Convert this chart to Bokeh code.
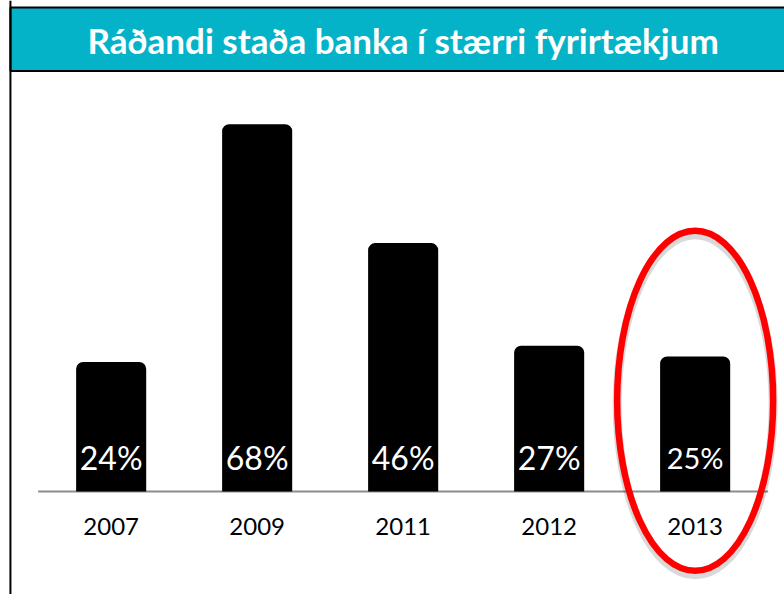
from bokeh.plotting import figure
from bokeh.models import Range1d, Span
from bokeh.core.properties import value
from bokeh.embed import file_html
from bokeh.resources import INLINE

# ---- data ----
categories = ["2007", "2009", "2011", "2012", "2013"]
shares = [0.24, 0.68, 0.46, 0.27, 0.25]
share_labels = ["24%", "68%", "46%", "27%", "25%"]
highlight = "2013"
title_text = "Ráðandi staða banka í stærri fyrirtækjum"

# ---- styles ----
TEAL = "#05B3C9"
FONT = "Lato"
W, H = 784, 594

x_idx = list(range(len(categories)))
hi = categories.index(highlight)

p = figure(width=W, height=H, output_backend="svg", toolbar_location=None,
           x_range=Range1d(-0.758, 4.612), y_range=Range1d(-0.1907, 0.9093),
           x_axis_type=None, y_axis_type=None, min_border=0,
           outline_line_color=None, background_fill_color="white",
           border_fill_color="white")
p.grid.visible = False

# title bar
p.quad(left=[-0.690], right=[4.8], top=[0.8963], bottom=[0.7787],
       fill_color=TEAL, line_color="black", line_width=2)
p.add_layout(Span(location=-0.690, dimension="height", line_color="black", line_width=2))
p.text(x=[sum(x_idx) / len(x_idx)], y=[0.8148], text=[title_text],
       text_align="center", text_baseline="alphabetic", y_offset=-12, text_color="white",
       text_font=value(FONT), text_font_style="bold", text_font_size="35px")

# baseline
p.line(x=[-0.5, len(categories) - 0.5], y=[0, 0], line_color="#8c8c8c", line_width=2)

# bars
p.vbar(x=x_idx, top=shares, bottom=0, width=0.48, fill_color="black",
       line_color=None, border_radius=(7, 7, 0, 0))

# value labels inside bars
sizes = ["29px" if c == highlight else "32px" for c in categories]
p.text(x=x_idx, y=[0] * len(x_idx), text=share_labels, text_align="center",
       text_baseline="alphabetic", y_offset=-34, text_color="white",
       text_font=value(FONT), text_font_size=sizes)

# category labels
p.text(x=x_idx, y=[0] * len(x_idx), text=categories, text_align="center",
       text_baseline="alphabetic", y_offset=35, text_color="black",
       text_font=value(FONT), text_font_size="24px")

# highlight ellipse
p.ellipse(x=[hi], y=[0.168 - 4 / 540], width=156, height=340, width_units="screen",
          height_units="screen", fill_color=None, line_color="black",
          line_alpha=0.15, line_width=9)
p.ellipse(x=[hi], y=[0.168], width=156, height=340, width_units="screen",
          height_units="screen", fill_color=None, line_color="#FF0000", line_width=6.5)

open("out.html", "w").write(file_html(p, INLINE))
